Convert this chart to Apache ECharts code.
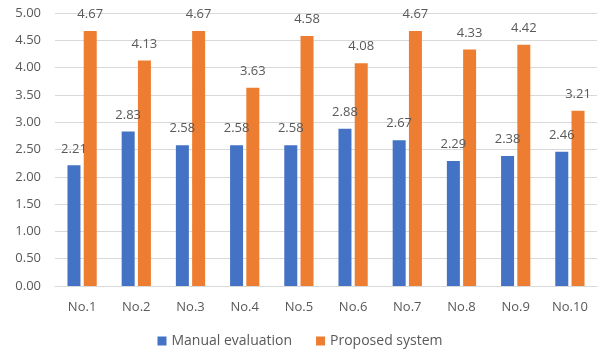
<!DOCTYPE html>
<html>
<head>
<meta charset="utf-8">
<script src="https://cdn.jsdelivr.net/npm/echarts@6/dist/echarts.min.js"></script>
<style>
html,body{margin:0;padding:0;background:#fff;}
#chart{width:600px;height:355px;}
</style>
</head>
<body>
<div id="chart"></div>
<script>
const categories = ['No.1','No.2','No.3','No.4','No.5','No.6','No.7','No.8','No.9','No.10'];
const manualEvaluation = [2.21, 2.83, 2.58, 2.58, 2.58, 2.88, 2.67, 2.29, 2.38, 2.46];
const proposedSystem = [4.67, 4.13, 4.67, 3.63, 4.58, 4.08, 4.67, 4.33, 4.42, 3.21];
const seriesNames = ['Manual evaluation', 'Proposed system'];

const font = '"Open Sans", "DejaVu Sans", sans-serif';
const textColor = '#595959';

const chart = echarts.init(document.getElementById('chart'), null, {renderer: 'canvas'});
const labelStyle = {
  show: true,
  position: 'top',
  distance: 10,
  color: textColor,
  fontFamily: font,
  fontSize: 13,
  formatter: p => p.value.toFixed(2)
};
chart.setOption({
  animation: false,
  textStyle: {fontFamily: font},
  grid: {left: 55, right: 3, top: 13, bottom: 69},
  legend: {
    bottom: 2,
    left: 'center',
    itemWidth: 9,
    itemHeight: 9,
    itemGap: 24,
    icon: 'rect',
    textStyle: {color: textColor, fontFamily: font, fontSize: 14},
    data: seriesNames
  },
  xAxis: {
    type: 'category',
    data: categories,
    axisLine: {show: true, lineStyle: {color: '#d9d9d9'}},
    axisTick: {show: false},
    axisLabel: {color: textColor, fontFamily: font, fontSize: 13, margin: 15}
  },
  yAxis: {
    type: 'value',
    min: 0,
    max: 5,
    interval: 0.5,
    axisLine: {show: false},
    axisTick: {show: false},
    splitLine: {lineStyle: {color: '#d9d9d9'}},
    axisLabel: {color: textColor, fontFamily: font, fontSize: 13, margin: 14,
      formatter: v => v.toFixed(2)}
  },
  series: [
    {
      name: seriesNames[0],
      type: 'bar',
      data: manualEvaluation,
      barWidth: 13,
      barGap: '25%',
      itemStyle: {color: '#4472C4'},
      label: labelStyle
    },
    {
      name: seriesNames[1],
      type: 'bar',
      data: proposedSystem,
      barWidth: 13,
      itemStyle: {color: '#ED7D31'},
      label: labelStyle
    }
  ]
});
</script>
</body>
</html>
